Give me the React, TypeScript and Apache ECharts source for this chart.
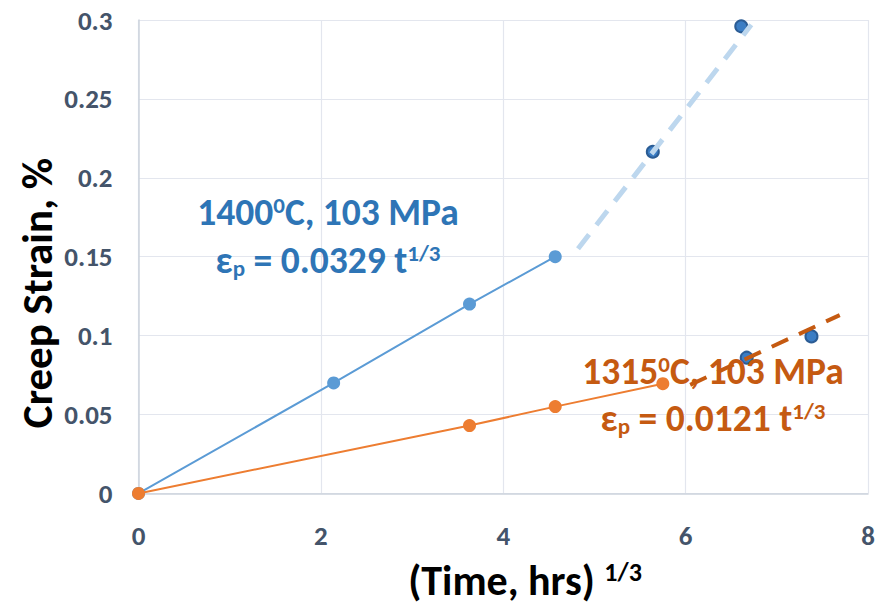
import React, { useEffect, useRef } from "react";
import * as echarts from "echarts";

const xTicks = [0, 2, 4, 6, 8];
const yTicks = [0, 0.05, 0.1, 0.15, 0.2, 0.25, 0.3];

const blueX = [0, 2.14, 3.63, 4.57];
const blueY = [0, 0.07, 0.12, 0.15];
const orangeX = [0, 3.63, 4.57, 5.75];
const orangeY = [0, 0.043, 0.055, 0.0695];
const extraX = [5.64, 6.61, 7.38, 6.67];
const extraY = [0.2165, 0.296, 0.0995, 0.086];
const blueTrendX = [4.82, 6.72];
const blueTrendY = [0.155, 0.297];
const orangeTrendX = [6.05, 7.69];
const orangeTrendY = [0.0688, 0.113];

const zip = (xs: number[], ys: number[]) => xs.map((x, i) => [x, ys[i]]);

const FONT = "Carlito, Lato, 'Open Sans', sans-serif";

export default function App() {
  const ref = useRef<HTMLDivElement>(null);
  useEffect(() => {
    if (!ref.current) return;
    const chart = echarts.init(ref.current, undefined, { renderer: "svg" });
    const richFor = (c: string) => ({
      a: { fontSize: 37.5, fontWeight: "bold", fill: c, fontFamily: FONT, verticalAlign: "bottom" },
      s: { fontSize: 23, fontWeight: "bold", fill: c, fontFamily: FONT, verticalAlign: "top" },
      b: { fontSize: 23, fontWeight: "bold", fill: c, fontFamily: FONT, verticalAlign: "bottom", padding: [0, 0, 0, 0] },
    });
    const annotation = (text: string, x: number, y: number, c: string) => ({
      type: "text",
      x,
      y,
      z: 10,
      style: {
        text,
        align: "center",
        verticalAlign: "middle",
        fontSize: 37.5,
        fontWeight: "bold",
        fontFamily: FONT,
        fill: c,
        rich: richFor(c),
      },
    });
    chart.setOption({
      animation: false,
      grid: { left: 138.5, right: 13, top: 20, bottom: 110.6 },
      xAxis: {
        type: "value",
        min: 0,
        max: 8,
        interval: 2,
        axisLine: { show: true, lineStyle: { color: "#CDD3DD", width: 1.5 } },
        axisTick: { show: false },
        splitLine: { show: true, lineStyle: { color: "#E3E6EE", width: 1.2 } },
        axisLabel: {
          color: "#44546A",
          fontSize: 27,
          fontFamily: FONT,
          fontWeight: "bold",
          margin: 29,
          formatter: (v: number) => (xTicks.includes(v) ? String(v) : ""),
        },
      },
      yAxis: {
        type: "value",
        min: 0,
        max: 0.3,
        interval: 0.05,
        axisLine: { show: true, lineStyle: { color: "#CDD3DD", width: 1.5 } },
        axisTick: { show: false },
        splitLine: { show: true, lineStyle: { color: "#E3E6EE", width: 1.2 } },
        axisLabel: {
          color: "#44546A",
          fontSize: 27,
          fontFamily: FONT,
          fontWeight: "bold",
          margin: 26,
          formatter: (v: number) => {
            const t = yTicks.find((y) => Math.abs(y - v) < 1e-9);
            return t === undefined ? "" : String(Number(t.toFixed(2)));
          },
        },
      },
      series: [
        {
          type: "line",
          data: zip(extraX, extraY),
          symbol: "circle",
          symbolSize: 12,
          lineStyle: { width: 0, opacity: 0 },
          itemStyle: { color: "#3B7DC4", borderColor: "#2B5C94", borderWidth: 2 },
          z: 2,
        },
        {
          type: "line",
          data: zip(blueTrendX, blueTrendY),
          symbol: "none",
          lineStyle: { color: "#BDD7EE", width: 5, type: [18, 12] },
          z: 3,
        },
        {
          type: "line",
          data: zip(orangeTrendX, orangeTrendY),
          symbol: "none",
          lineStyle: { color: "#C55A11", width: 4, type: [18, 12] },
          z: 3,
        },
        {
          type: "line",
          data: zip(blueX, blueY),
          symbol: "circle",
          symbolSize: 13,
          lineStyle: { color: "#5B9BD5", width: 2 },
          itemStyle: { color: "#5B9BD5" },
          z: 4,
        },
        {
          type: "line",
          data: zip(orangeX, orangeY),
          symbol: "circle",
          symbolSize: 13,
          lineStyle: { color: "#ED7D31", width: 2 },
          itemStyle: { color: "#ED7D31" },
          z: 5,
        },
      ],
      graphic: [
        {
          type: "text",
          x: 37,
          y: 293,
          rotation: Math.PI / 2,
          z: 10,
          style: {
            text: "Creep Strain, %",
            align: "center",
            verticalAlign: "middle",
            fontSize: 43,
            fontWeight: "bold",
            fontFamily: FONT,
            fill: "#000",
          },
        },
        {
          type: "text",
          x: 525,
          y: 580,
          z: 10,
          style: {
            text: "{a|(Time, hrs) }{s|1/3}",
            align: "center",
            verticalAlign: "middle",
            fontSize: 42,
            fontWeight: "bold",
            fontFamily: FONT,
            fill: "#000",
            rich: {
              a: { fontSize: 42, fontWeight: "bold", fill: "#000", fontFamily: FONT, verticalAlign: "bottom" },
              s: { fontSize: 26, fontWeight: "bold", fill: "#000", fontFamily: FONT, verticalAlign: "top" },
            },
          },
        },
        annotation("{a|1400}{s|0}{a|C, 103 MPa}", 328, 212, "#2E75B6"),
        annotation("{a|ε}{b|p}{a| = 0.0329 t}{s|1/3}", 328, 260, "#2E75B6"),
        annotation("{a|1315}{s|0}{a|C, 103 MPa}", 713, 371, "#C55A11"),
        annotation("{a|ε}{b|p}{a| = 0.0121 t}{s|1/3}", 713, 418, "#C55A11"),
      ],
    });
    return () => chart.dispose();
  }, []);
  return <div ref={ref} style={{ position: "absolute", left: 0, top: 0, width: 881, height: 604 }} />;
}
